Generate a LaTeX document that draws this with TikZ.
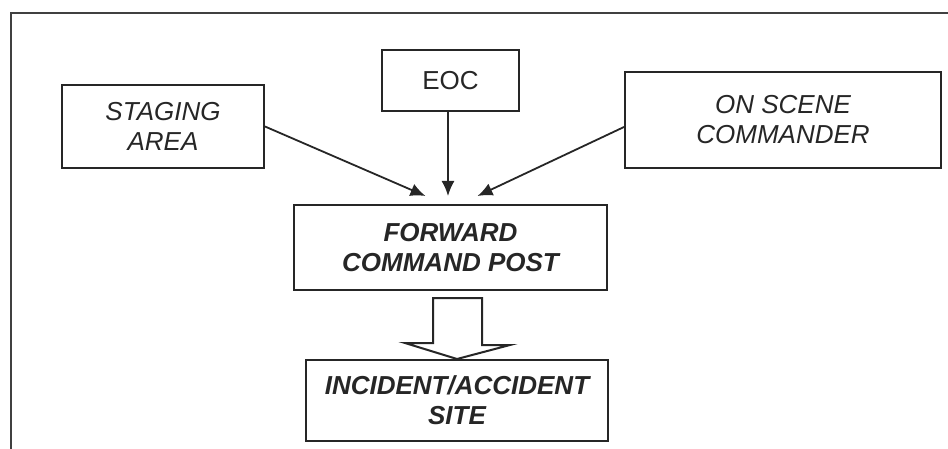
\documentclass[tikz,border=0pt]{standalone}
\usepackage{fontspec}
\setmainfont{Liberation Sans}
\usetikzlibrary{arrows.meta,calc}

\begin{document}
\begin{tikzpicture}[x=1pt, y=-1pt,
	box/.style={draw=black!85, line width=2pt, align=center, inner sep=0pt,
		font=\fontsize{26}{30}\selectfont, text=black!85},
	conn/.style={draw=black!85, line width=1.8pt, -{Latex[length=15pt,width=13pt]}},
	hollow/.style={draw=black!85, line width=2pt, fill=white}]
	\useasboundingbox (0,0) rectangle (948,449);
	% outer frame, cut off at right and bottom
	\draw[black!75, line width=2.2pt] (11,449) -- (11,13) -- (948,13);
	% boxes
	\node[box, minimum width=137pt, minimum height=61pt] (eoc) at (450.5,80.5) {EOC};
	\node[box, minimum width=202pt, minimum height=83pt] (staging) at (163,126.5) {\itshape STAGING\\\itshape AREA};
	\node[box, minimum width=316pt, minimum height=96pt] (osc) at (783,120) {\itshape ON SCENE\\\itshape COMMANDER};
	\node[box, minimum width=313pt, minimum height=85pt] (fcp) at (450.5,247.5) {\bfseries\itshape FORWARD\\\bfseries\itshape COMMAND POST};
	\node[box, minimum width=302pt, minimum height=81pt] (site) at (457,400.5) {\bfseries\itshape INCIDENT/ACCIDENT\\\bfseries\itshape SITE};
	% arrow ends above the forward post
	\coordinate (tipL) at ($(fcp.north)+(-25,-8)$);
	\coordinate (tipM) at ($(fcp.north)+(-2.5,-8)$);
	\coordinate (tipR) at ($(fcp.north)+(27,-8)$);
	\draw[conn] (staging.east) -- (tipL);
	\draw[conn] (eoc.south -| tipM) -- (tipM);
	\draw[conn] ($(osc.west)+(0,7)$) -- (tipR);
	% open block arrow down to the site
	\draw[hollow] ($(fcp.south)+(-17.5,7)$) -- ++(49,0) -- ++(0,47) -- ++(28,0)
		-- (site.north) -- ++(-52,-16) -- ++(28,0) -- cycle;
\end{tikzpicture}
\end{document}
